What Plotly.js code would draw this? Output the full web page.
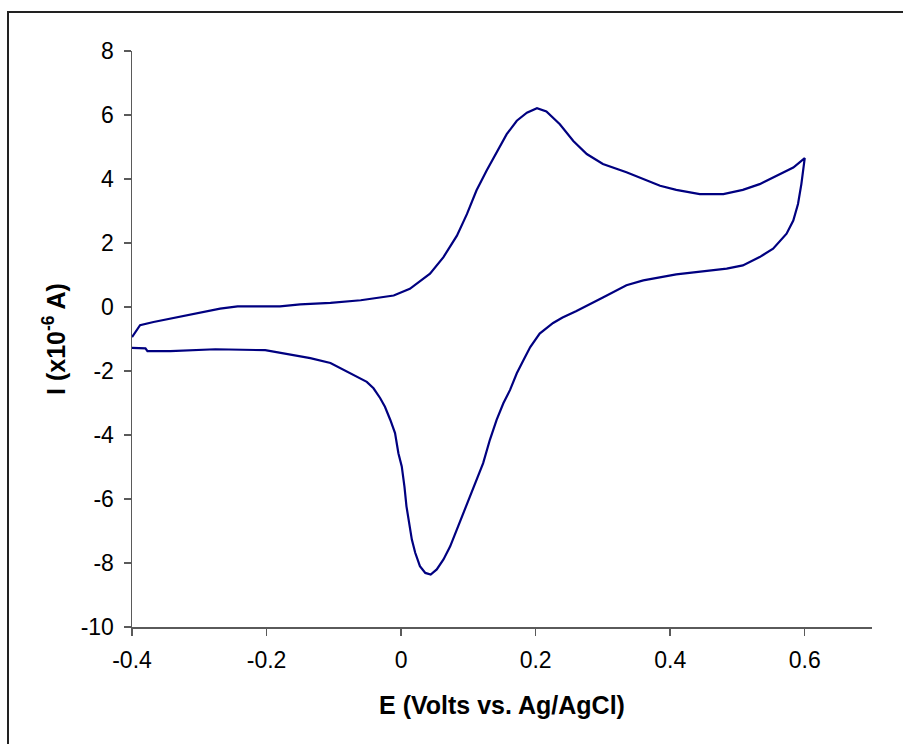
<!DOCTYPE html>
<html>
<head>
<meta charset="utf-8">
<script src="https://cdn.plot.ly/plotly-3.0.1.min.js"></script>
<style>
  html, body { margin: 0; padding: 0; background: #ffffff; overflow: hidden; }
  #chart { position: absolute; left: 0; top: 0; width: 903px; height: 744px; }
  #frame { position: absolute; left: 7px; top: 11px; width: 1000px; height: 1000px;
           border: 2px solid #222222; pointer-events: none; }
</style>
</head>
<body>
<div id="chart"></div>
<div id="frame"></div>
<script>
// Cyclic voltammogram: forward (anodic) sweep -0.4 V -> 0.6 V, then reverse sweep back to -0.4 V
const forwardE = [-0.400, -0.388, -0.368, -0.343, -0.318, -0.294, -0.269, -0.243, -0.180, -0.150,
                  -0.105, -0.060, -0.036, -0.011, 0.013, 0.043, 0.063, 0.083, 0.098, 0.112,
                  0.127, 0.142, 0.157, 0.172, 0.187, 0.202, 0.216, 0.236, 0.256, 0.276,
                  0.300, 0.335, 0.385, 0.409, 0.444, 0.479, 0.508, 0.533, 0.558, 0.583, 0.600];
const forwardI = [-0.94, -0.57, -0.47, -0.36, -0.26, -0.16, -0.05, 0.02, 0.02, 0.08,
                  0.13, 0.21, 0.29, 0.36, 0.57, 1.04, 1.56, 2.23, 2.91, 3.64,
                  4.26, 4.83, 5.40, 5.82, 6.07, 6.21, 6.11, 5.71, 5.19, 4.78,
                  4.47, 4.21, 3.79, 3.66, 3.53, 3.53, 3.66, 3.84, 4.10, 4.36, 4.65];

const reverseE = [0.599, 0.595, 0.590, 0.583, 0.573, 0.553, 0.533, 0.508, 0.484, 0.449,
                  0.409, 0.360, 0.335, 0.300, 0.280, 0.260, 0.240, 0.226, 0.206, 0.192,
                  0.182, 0.172, 0.162, 0.152, 0.142, 0.132, 0.122, 0.112, 0.102, 0.093,
                  0.083, 0.073, 0.063, 0.053, 0.044, 0.036, 0.028, 0.021, 0.016, 0.012,
                  0.008, 0.005, 0.001, -0.004, -0.009, -0.016, -0.024, -0.031, -0.041, -0.051,
                  -0.061, -0.083, -0.105, -0.135, -0.164, -0.187, -0.202, -0.276, -0.343, -0.377,
                  -0.380, -0.400];
const reverseI = [4.47, 3.84, 3.22, 2.70, 2.29, 1.82, 1.56, 1.30, 1.20, 1.12,
                  1.02, 0.83, 0.68, 0.30, 0.08, -0.13, -0.33, -0.50, -0.83, -1.25,
                  -1.66, -2.07, -2.59, -3.01, -3.53, -4.15, -4.88, -5.40, -5.92, -6.44,
                  -6.96, -7.48, -7.89, -8.20, -8.36, -8.31, -8.10, -7.68, -7.27, -6.75,
                  -6.23, -5.61, -4.98, -4.57, -3.94, -3.53, -3.12, -2.85, -2.54, -2.34,
                  -2.23, -1.97, -1.75, -1.60, -1.49, -1.41, -1.35, -1.32, -1.38, -1.38,
                  -1.29, -1.28];

const xTickVals = [-0.4, -0.2, 0, 0.2, 0.4, 0.6];
const xTickText = ['-0.4', '-0.2', '0', '0.2', '0.4', '0.6'];
const yTickVals = [-10, -8, -6, -4, -2, 0, 2, 4, 6, 8];
const yTickText = ['-10', '-8', '-6', '-4', '-2', '0', '2', '4', '6', '8'];

const xTitle = 'E (Volts vs. Ag/AgCl)';
const yTitle = 'I (x10<sup>-6</sup> A)';

const fontFamily = '"Liberation Sans", Arial, sans-serif';
const axisColor = '#5a5a5a';

const trace = {
  x: forwardE.concat(reverseE),
  y: forwardI.concat(reverseI),
  type: 'scatter',
  mode: 'lines',
  line: { color: '#000080', width: 2.2 },
  hoverinfo: 'skip'
};

const axisCommon = {
  showgrid: false,
  zeroline: false,
  showline: true,
  linecolor: axisColor,
  linewidth: 1.5,
  ticks: 'outside',
  ticklen: 7,
  tickwidth: 1.5,
  tickcolor: axisColor,
  tickfont: { family: fontFamily, size: 23, color: '#000000' },
  fixedrange: true
};

const titleFont = { family: fontFamily, size: 25, weight: 'bold', color: '#000000' };

const layout = {
  width: 903,
  height: 744,
  margin: { l: 132, r: 31, t: 51, b: 117 },
  paper_bgcolor: '#ffffff',
  plot_bgcolor: '#ffffff',
  showlegend: false,
  xaxis: Object.assign({}, axisCommon, {
    range: [-0.4, 0.7],
    tickmode: 'array',
    tickvals: xTickVals,
    ticktext: xTickText,
    ticklabelstandoff: 5,
    title: { text: xTitle, font: titleFont, standoff: 24 }
  }),
  yaxis: Object.assign({}, axisCommon, {
    range: [-10, 8],
    tickmode: 'array',
    tickvals: yTickVals,
    ticktext: yTickText,
    ticklabelstandoff: 5,
    title: { text: yTitle, font: titleFont, standoff: 8 }
  })
};

Plotly.newPlot('chart', [trace], layout, { staticPlot: true, displayModeBar: false });
</script>
</body>
</html>
